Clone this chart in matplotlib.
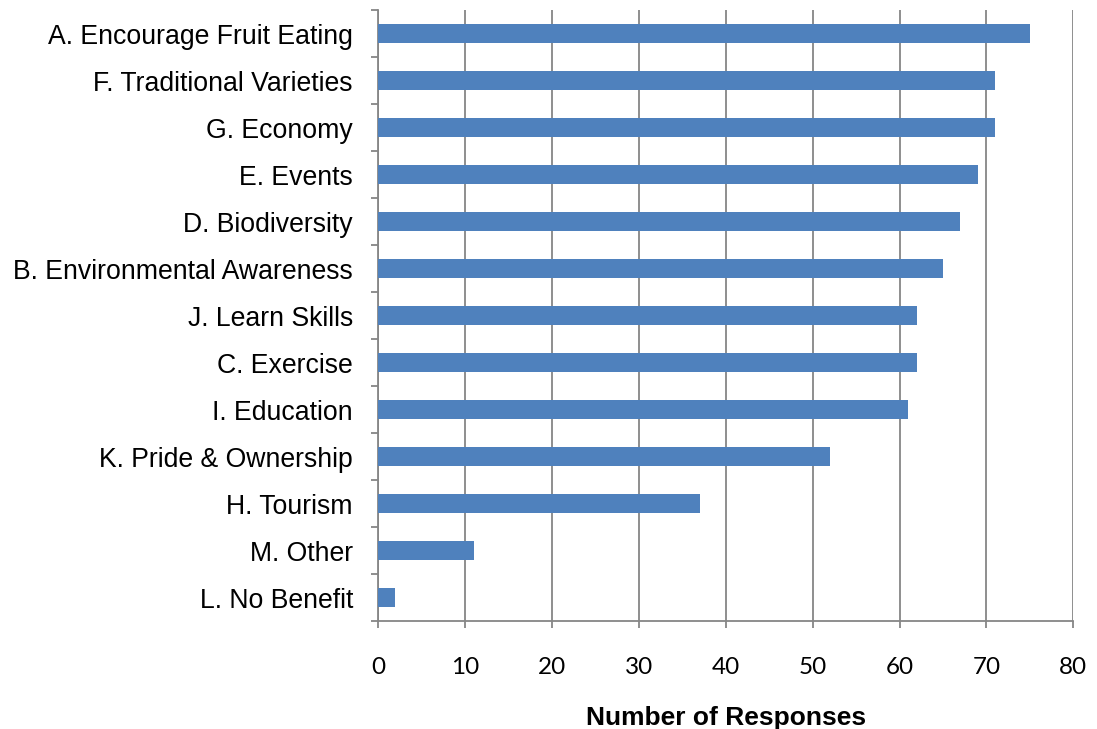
import matplotlib.pyplot as plt
import numpy as np

categories = ['A. Encourage Fruit Eating', 'F. Traditional Varieties', 'G. Economy',
              'E. Events', 'D. Biodiversity', 'B. Environmental Awareness',
              'J. Learn Skills', 'C. Exercise', 'I. Education', 'K. Pride & Ownership',
              'H. Tourism', 'M. Other', 'L. No Benefit']
responses = [75, 71, 71, 69, 67, 65, 62, 62, 61, 52, 37, 11, 2]
xticks = [0, 10, 20, 30, 40, 50, 60, 70, 80]

fig = plt.figure(figsize=(10.97, 7.29), dpi=100)
ax = fig.add_axes([0.3445, 0.148, 0.634, 0.838])

y = np.arange(len(categories))[::-1]
ax.barh(y, responses, height=0.4, color='#4F81BD', zorder=3)

ax.set_xlim(0, 80)
ax.set_ylim(-0.5, len(categories) - 0.5)
ax.set_xticks(xticks)
ax.set_xticklabels([str(t) for t in xticks], fontsize=17.5, family='Lato')
ax.set_yticks(y)
ax.set_yticklabels(categories, fontsize=19.2, family='Liberation Sans')
ax.set_yticks(np.arange(len(categories) + 1) - 0.5, minor=True)

ax.tick_params(axis='y', which='major', length=0, pad=18)
ax.tick_params(axis='y', which='minor', length=5, width=1.3, color='#868686')
ax.tick_params(axis='x', length=5, width=1.3, color='#868686', pad=21)

ax.grid(axis='x', color='#868686', linewidth=1.3, zorder=0)
for s in ['top', 'right']:
    ax.spines[s].set_visible(False)
for s in ['left', 'bottom']:
    ax.spines[s].set_color('#868686')
    ax.spines[s].set_linewidth(1.3)

ax.set_xlabel('Number of Responses', fontsize=19, fontweight='bold',
              family='Liberation Sans', labelpad=20)

fig.savefig('out.png', dpi=100)
